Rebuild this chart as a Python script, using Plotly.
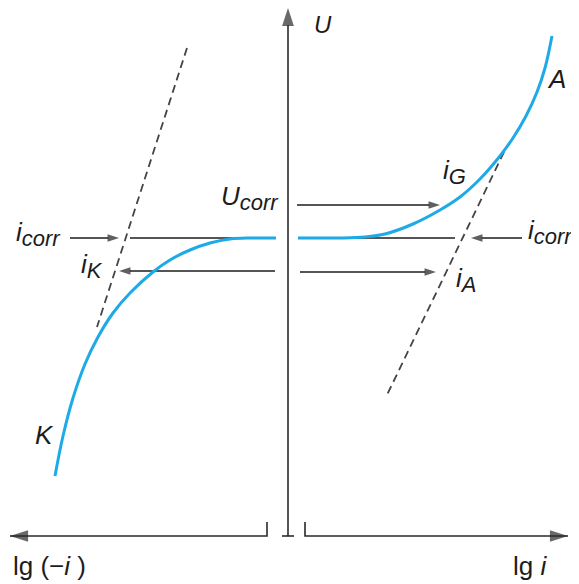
import plotly.graph_objects as go

# Evans diagram (schematic). x: lg|i| position relative to the U axis, y: U relative to U_corr
anodic_x = [10, 52, 77, 97, 125, 152, 172, 192, 212, 225, 238, 249, 257, 264]
anodic_y = [0, 0, 1, 4, 14, 28, 41, 59, 82, 100, 122, 146, 170, 202]
cathodic_x = [-12, -38, -58, -78, -98, -118, -135, -158, -175, -190, -203, -215, -225, -233]
cathodic_y = [0, 0, -1, -5, -12, -22, -34, -55, -75, -99, -126, -160, -198, -238]
tafel_anodic_x = [216, 99]
tafel_anodic_y = [86, -157]
tafel_cathodic_x = [-101, -191]
tafel_cathodic_y = [190, -89]

# arrows: (x_from, x_to, y)
arrows = [
    (-218, -169, 0),    # i_corr (left) ->
    (-13, -169, -33),   # i_K <-
    (9, 152, 33),       # U_corr -> i_G
    (234, 183, 0),      # <- i_corr (right)
    (12, 148, -34),     # -> i_A
]
plain_lines = [
    (-158, -13, 0),
    (12, 167, 0),
]

BLUE = "#1eaae6"
INK = "#1c1c1c"
AX = "#2a2a2a"
FONT = "Liberation Sans"

fig = go.Figure()

for x0, x1, y in plain_lines:
    fig.add_trace(go.Scatter(x=[x0, x1], y=[y, y], mode="lines",
                             line=dict(color=INK, width=1.5), hoverinfo="skip"))

dash_style = dict(color="#444444", width=1.8, dash="8px,5px")
fig.add_trace(go.Scatter(x=tafel_anodic_x, y=tafel_anodic_y, mode="lines",
                         line=dash_style, hoverinfo="skip"))
fig.add_trace(go.Scatter(x=tafel_cathodic_x, y=tafel_cathodic_y, mode="lines",
                         line=dash_style, hoverinfo="skip"))

for x0, x1, y in arrows:
    fig.add_trace(go.Scatter(x=[x0, x1], y=[y, y], mode="lines+markers",
                             line=dict(color=INK, width=1.5),
                             marker=dict(symbol="arrow", size=[0, 12], angleref="previous",
                                         color=INK, line=dict(width=0)),
                             hoverinfo="skip"))

fig.add_trace(go.Scatter(x=anodic_x, y=anodic_y, mode="lines",
                         line=dict(color=BLUE, width=3, shape="spline", smoothing=1.0),
                         hoverinfo="skip"))
fig.add_trace(go.Scatter(x=cathodic_x, y=cathodic_y, mode="lines",
                         line=dict(color=BLUE, width=3, shape="spline", smoothing=1.0),
                         hoverinfo="skip"))

ax_marker = dict(symbol="arrow", angleref="previous", color=AX, line=dict(width=0))
fig.add_trace(go.Scatter(x=[0, 0], y=[-298, 230], mode="lines+markers",
                         line=dict(color=AX, width=1.6),
                         marker=dict(size=[0, 19], **ax_marker), hoverinfo="skip"))
fig.add_trace(go.Scatter(x=[-6, 6], y=[-298, -298], mode="lines",
                         line=dict(color=AX, width=1.6), hoverinfo="skip"))
fig.add_trace(go.Scatter(x=[-21, -21, -278], y=[-284, -298, -298], mode="lines+markers",
                         line=dict(color=AX, width=1.6),
                         marker=dict(size=[0, 0, 19], **ax_marker), hoverinfo="skip"))
fig.add_trace(go.Scatter(x=[17, 17, 280], y=[-284, -298, -298], mode="lines+markers",
                         line=dict(color=AX, width=1.6),
                         marker=dict(size=[0, 0, 19], **ax_marker), hoverinfo="skip"))

SUB = '<sub><span style="font-size:22px">{}</span></sub>'
labels = [
    ("<i>U" + SUB.format("corr") + "</i>", -69, 40, "middle"),
    ("<i>i" + SUB.format("corr") + "</i>", -274, 4, "middle"),
    ("<i>i" + SUB.format("K") + "</i>", -209, -28, "middle"),
    ("<i>i" + SUB.format("G") + "</i>", 153, 66, "middle"),
    ("<i>i" + SUB.format("corr") + "</i>", 238, 6, "middle"),
    ("<i>i" + SUB.format("A") + "</i>", 166, -42, "middle"),
    ("<i>A</i>", 257, 159, "middle"),
    ("<i>K</i>", -255, -197, "middle"),
    ("lg (\u2212<i>i</i> )", -277, -328, "middle"),
    ("lg <i>i</i>", 223, -328, "middle"),
    ("<i>U</i>", 24, 229, "top"),
]
for text, x, y, ya in labels:
    fig.add_annotation(x=x, y=y, text=text, showarrow=False, xanchor="left", yanchor=ya,
                       font=dict(family=FONT, size=26 if ya == "middle" else 24, color=INK))

# the page adds an 8px body margin, so the figure is 8px smaller than the window
fig.update_layout(
    width=571, height=576, margin=dict(l=0, r=0, t=0, b=0),
    paper_bgcolor="white", plot_bgcolor="white", showlegend=False,
    xaxis=dict(range=[-280, 291], visible=False, fixedrange=True),
    yaxis=dict(range=[-346, 230], visible=False, fixedrange=True),
)

fig.write_html("out.html")
